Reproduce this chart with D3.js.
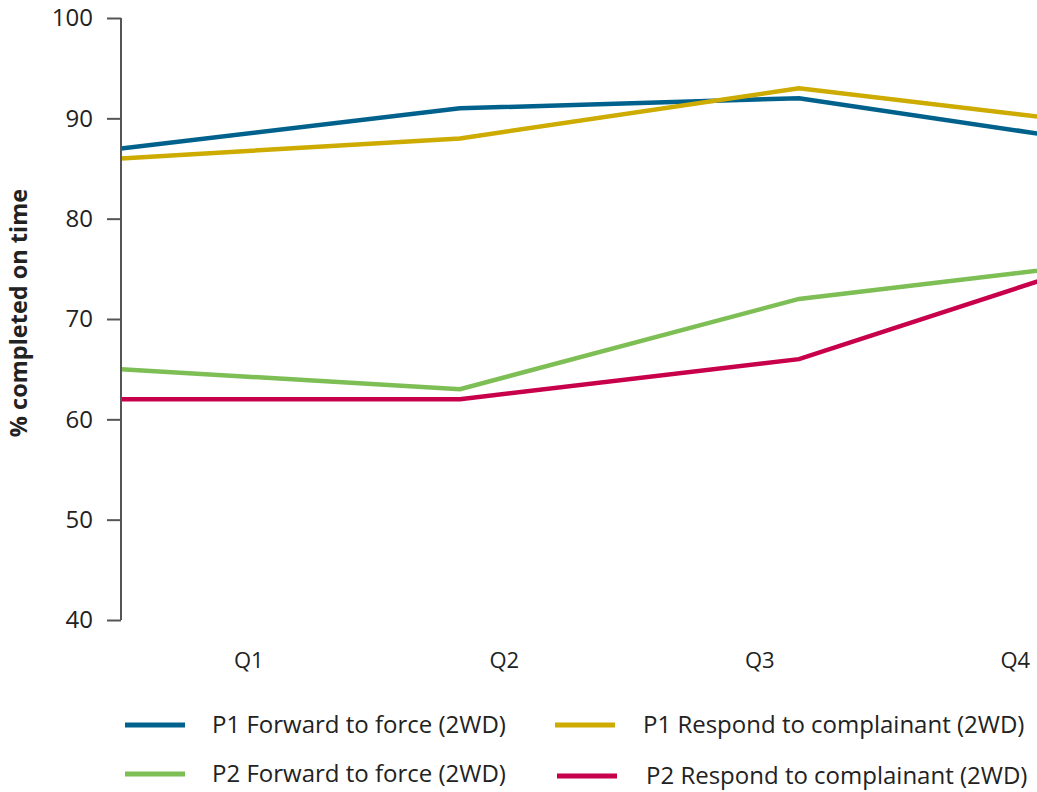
<!DOCTYPE html>
<html>
<head>
<meta charset="utf-8">
<script src="https://cdn.jsdelivr.net/npm/d3@7"></script>
<style>
  body { margin: 0; background: #fff; }
  text { font-family: "Open Sans", Lato, sans-serif; fill: #222; }
</style>
</head>
<body>
<div id="chart"></div>
<script>
const quarters = ['Q1', 'Q2', 'Q3', 'Q4']
const yTicks = [40, 50, 60, 70, 80, 90, 100]
const seriesNames = [
  'P1 Forward to force (2WD)',
  'P1 Respond to complainant (2WD)',
  'P2 Forward to force (2WD)',
  'P2 Respond to complainant (2WD)'
]
const p1Forward = [87, 91, 92, 87]
const p1Respond = [86, 88, 93, 89]
const p2Forward = [65, 63, 72, 76]
const p2Respond = [62, 62, 66, 77]
const colors = ['#00628c', '#cdab00', '#7dbe55', '#c8004b']

const width = 1037, height = 792
const svg = d3.select('#chart').append('svg')
  .attr('width', width).attr('height', height)

const y = d3.scaleLinear().domain([40, 100]).range([620, 18])
// data points sit on the left edge of each quarter (chart cropped on the right)
const x = d3.scalePoint().domain(quarters).range([121, 1138])
const xLab = d3.scaleBand().domain(quarters).range([121, 1143])

svg.append('defs').append('clipPath').attr('id', 'clip')
  .append('rect').attr('x', 121).attr('y', 0).attr('width', width - 121).attr('height', 640)

const series = [p1Forward, p1Respond, p2Forward, p2Respond]
const line = d3.line().x((d, i) => x(quarters[i])).y(d => y(d))

svg.append('g').attr('clip-path', 'url(#clip)')
  .selectAll('path')
  .data(series)
  .enter().append('path')
  .attr('d', line)
  .attr('fill', 'none')
  .attr('stroke', (d, i) => colors[i])
  .attr('stroke-width', 4.5)

// y axis
const yAxis = svg.append('g')
  .attr('transform', 'translate(121,0)')
  .call(d3.axisLeft(y).tickValues(yTicks).tickSize(14).tickPadding(14))
yAxis.select('.domain').attr('stroke', '#555').attr('stroke-width', 2)
  .attr('d', 'M0,' + y(40) + 'V' + y(100))
yAxis.selectAll('.tick line').attr('stroke', '#555').attr('stroke-width', 2)
yAxis.selectAll('.tick text')
  .style('font-family', '"Open Sans", sans-serif')
  .style('font-size', '24px').attr('fill', '#222')

svg.append('text')
  .attr('transform', 'translate(27,313) rotate(-90)')
  .attr('text-anchor', 'middle')
  .style('font-size', '23.5px').style('font-weight', 'bold')
  .text('% completed on time')

// quarter labels
svg.selectAll('.qlab')
  .data(quarters)
  .enter().append('text')
  .attr('class', 'qlab')
  .attr('x', d => xLab(d) + xLab.bandwidth() / 2)
  .attr('y', 668)
  .attr('text-anchor', 'middle')
  .style('font-size', '22px')
  .text(d => d)

// legend
const legendPos = [
  { lx: 125, tx: 212, y: 725 },
  { lx: 555, tx: 643, y: 725 },
  { lx: 125, tx: 212, y: 774 },
  { lx: 557, tx: 646, y: 776 }
]
const legend = svg.selectAll('.leg')
  .data(seriesNames)
  .enter().append('g')
  .attr('class', 'leg')
legend.append('line')
  .attr('x1', (d, i) => legendPos[i].lx)
  .attr('x2', (d, i) => legendPos[i].lx + 60)
  .attr('y1', (d, i) => legendPos[i].y)
  .attr('y2', (d, i) => legendPos[i].y)
  .attr('stroke', (d, i) => colors[i])
  .attr('stroke-width', 5)
legend.append('text')
  .attr('x', (d, i) => legendPos[i].tx)
  .attr('y', (d, i) => legendPos[i].y + 8)
  .style('font-size', '24px')
  .text(d => d)
</script>
</body>
</html>
